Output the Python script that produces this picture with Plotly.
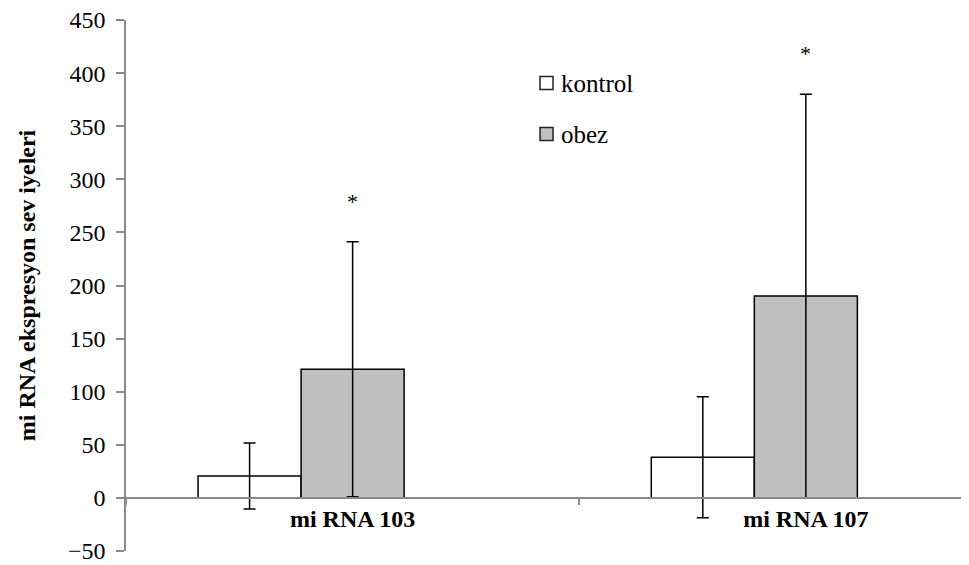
import plotly.graph_objects as go

categories = ["mi RNA 103", "mi RNA 107"]
kontrol = [20.7, 38.3]
kontrol_err = [31.1, 57.0]
obez = [121.2, 190.2]
obez_err = [120.0, 190.0]
significant = ["*", "*"]
y_ticks = [-50, 0, 50, 100, 150, 200, 250, 300, 350, 400, 450]
legend_names = ["kontrol", "obez"]
legend_colors = ["white", "#c0c0c0"]

FONT = "Liberation Serif"
AXIS_GRAY = "#8a8a8a"

# page body has an 8px margin: figure is sized so plot area lands as in reference
W, H = 961, 557
ML, MR, MT, MB = 118, 0, 12, 14
PW, PH = W - ML - MR, H - MT - MB

fig = go.Figure()
fig.add_trace(go.Bar(
    name="kontrol", x=categories, y=kontrol, showlegend=False,
    marker=dict(color=legend_colors[0], line=dict(color="black", width=1.5)),
    error_y=dict(type="data", array=kontrol_err, visible=True, color="black",
                 thickness=1.5, width=6),
))
fig.add_trace(go.Bar(
    name="obez", x=categories, y=obez, showlegend=False,
    marker=dict(color=legend_colors[1], line=dict(color="black", width=1.5)),
    error_y=dict(type="data", array=obez_err, visible=True, color="black",
                 thickness=1.5, width=6),
))
# empty third series slot (as in the original grouped layout)
fig.add_trace(go.Bar(
    name="", x=categories, y=[0, 0], showlegend=False, hoverinfo="skip",
    marker=dict(color="rgba(0,0,0,0)", line=dict(width=0)),
))

for c, v, e, s in zip(categories, obez, obez_err, significant):
    fig.add_annotation(x=c, y=v + e + 38, text=s, showarrow=False,
                       font=dict(family=FONT, size=22, color="black"),
                       yanchor="middle")

# legend (drawn as in the reference: small square + label)
leg_x0 = 532
leg_rows = [75, 126]
for name, col, yc in zip(legend_names, legend_colors, leg_rows):
    x0 = (leg_x0 - ML) / PW
    x1 = (leg_x0 + 13 - ML) / PW
    y0 = 1 - (yc + 6.5 - MT) / PH
    y1 = 1 - (yc - 6.5 - MT) / PH
    fig.add_shape(type="rect", xref="paper", yref="paper", x0=x0, x1=x1, y0=y0, y1=y1,
                  fillcolor=col, line=dict(color="#222222", width=1.5))
    fig.add_annotation(xref="paper", yref="paper",
                       x=(leg_x0 + 19 - ML) / PW, y=1 - (yc - MT) / PH,
                       text=name, showarrow=False, xanchor="left", yanchor="middle",
                       font=dict(family=FONT, size=25, color="black"))

fig.update_layout(
    width=W, height=H,
    margin=dict(l=ML, r=MR, t=MT, b=MB),
    paper_bgcolor="white", plot_bgcolor="white",
    barmode="group", bargap=0.318, bargroupgap=0,
    font=dict(family=FONT, size=24, color="black"),
    showlegend=False,
    xaxis=dict(
        type="category", range=[-0.5, 1.36],
        anchor="free", position=0.1,
        showline=True, linecolor=AXIS_GRAY, linewidth=1.5,
        ticks="outside", tickson="boundaries", ticklen=6,
        tickcolor=AXIS_GRAY, tickwidth=1.5,
        tickfont=dict(family=FONT, size=24, color="black", weight="bold"),
        showgrid=False, zeroline=False,
    ),
    yaxis=dict(
        range=[-50, 450], tickvals=y_ticks,
        showline=True, linecolor=AXIS_GRAY, linewidth=1.5,
        ticks="outside", ticklen=8, tickcolor=AXIS_GRAY, tickwidth=1.5,
        tickfont=dict(family=FONT, size=24, color="black"),
        ticklabelstandoff=6, ticklabeloverflow="allow",
        showgrid=False, zeroline=False,
        title=dict(text="mi RNA ekspresyon sev iyeleri", standoff=26,
                   font=dict(family=FONT, size=24, color="black", weight="bold")),
    ),
)

fig.write_html("out.html")
